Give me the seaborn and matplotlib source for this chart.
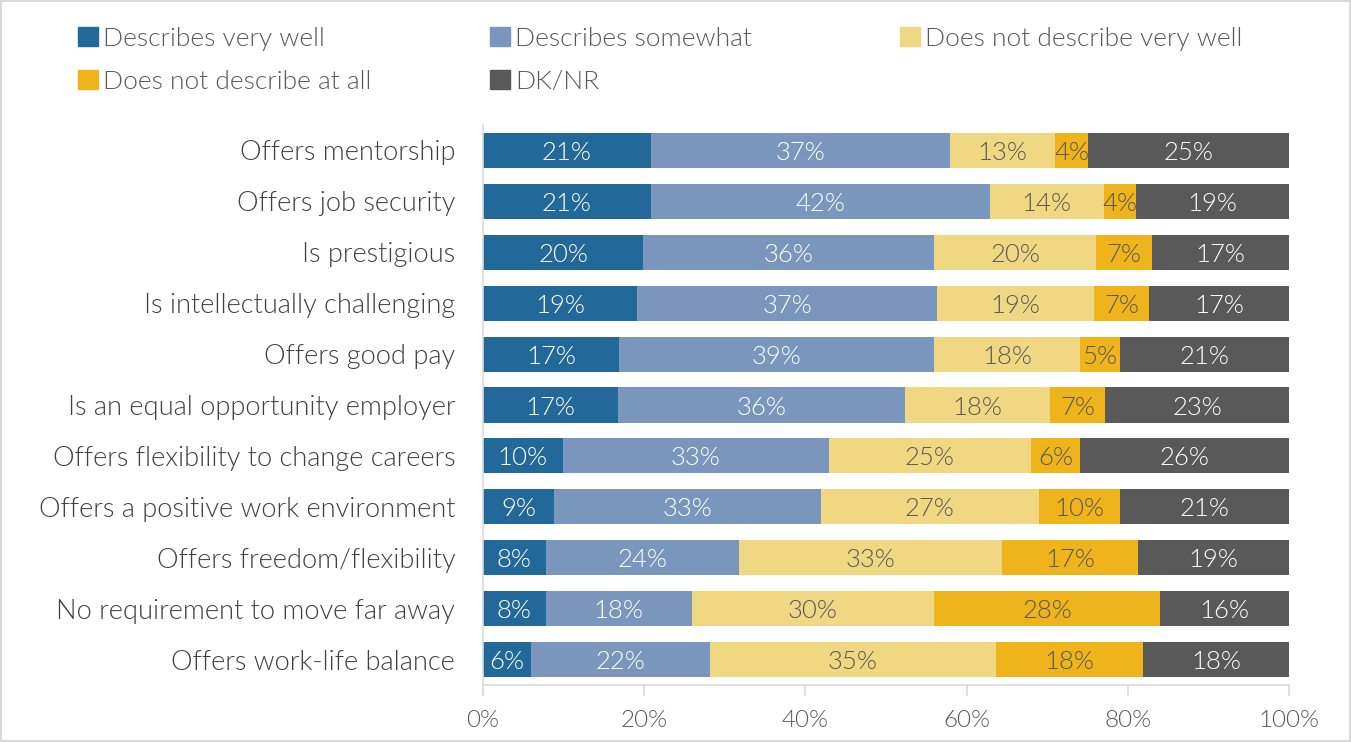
import matplotlib.pyplot as plt
import pandas as pd
import seaborn as sns
from matplotlib.patches import Patch
from matplotlib.ticker import FuncFormatter

sns.set_theme(style="white")
plt.rcParams["font.family"] = ["Lato", "DejaVu Sans"]
plt.rcParams["font.weight"] = 300

categories = ["Offers mentorship", "Offers job security", "Is prestigious",
              "Is intellectually challenging", "Offers good pay",
              "Is an equal opportunity employer", "Offers flexibility to change careers",
              "Offers a positive work environment", "Offers freedom/flexibility",
              "No requirement to move far away", "Offers work-life balance"]
series = ["Describes very well", "Describes somewhat", "Does not describe very well",
          "Does not describe at all", "DK/NR"]
very_well = [20.8, 20.8, 19.9, 19.1, 16.9, 16.8, 9.9, 8.8, 7.8, 7.8, 6.0]
somewhat = [37.1, 42.1, 36.1, 37.3, 39.1, 35.6, 33.0, 33.1, 24.0, 18.1, 22.2]
not_very = [13.1, 14.1, 20.1, 19.4, 18.1, 18.0, 25.1, 27.1, 32.6, 30.1, 35.4]
not_at_all = [4.1, 4.0, 6.9, 6.9, 4.9, 6.8, 6.1, 10.0, 16.9, 28.0, 18.3]
dk_nr = [24.9, 19.0, 17.0, 17.3, 21.0, 22.8, 25.9, 21.0, 18.7, 16.0, 18.1]

colors = ["#22699A", "#7A96BC", "#F0D882", "#EFB31B", "#595959"]
text_colors = ["white", "white", "#595959", "#595959", "white"]

df = pd.DataFrame({"category": categories, series[0]: very_well, series[1]: somewhat,
                   series[2]: not_very, series[3]: not_at_all, series[4]: dk_nr})
cum = df[series].cumsum(axis=1)

fig = plt.figure(figsize=(13.51, 7.42), dpi=100)
fig.patch.set_edgecolor("#D9D9D9")
fig.patch.set_linewidth(1.5)
ax = fig.add_axes([0.3575, 0.0768, 0.5965, 0.7547])

# overlay cumulative totals, widest first
for i in reversed(range(len(series))):
    sns.barplot(x=cum[series[i]], y=df["category"], orient="h", color=colors[i],
                width=0.69, saturation=1, ax=ax, linewidth=0)

for i, s in enumerate(series):
    for j in range(len(df)):
        v = df[s].iloc[j]
        ax.text(cum[s].iloc[j] - v / 2, j + 0.05, f"{round(v)}%", ha="center",
                va="center", fontsize=18.5, color=text_colors[i])

ax.set_xlim(0, 100)
ax.set_ylim(10.5, -0.5)
ax.set_xticks([0, 20, 40, 60, 80, 100])
ax.xaxis.set_major_formatter(FuncFormatter(lambda v, _: f"{int(v)}%"))
ax.set_xlabel("")
ax.set_ylabel("")
for side in ["top", "right"]:
    ax.spines[side].set_visible(False)
for side in ["left", "bottom"]:
    ax.spines[side].set_color("#D9D9D9")
    ax.spines[side].set_linewidth(1.2)
ax.tick_params(axis="x", bottom=True, length=8, width=1.2, color="#D9D9D9",
               labelsize=17.5, labelcolor="#595959", pad=10)
ax.tick_params(axis="y", left=False, labelsize=19.6, labelcolor="#404040", pad=14)

# three legend columns at fixed positions, like the original
cols = [[0, 3], [1, 4], [2]]
xs = [0.0577, 0.3627, 0.666]
for col, x in zip(cols, xs):
    handles = [Patch(color=colors[k], label=series[k]) for k in col]
    fig.legend(handles=handles, loc="upper left", bbox_to_anchor=(x, 0.964),
               frameon=False, fontsize=19, handlelength=0.75, handleheight=0.75,
               handletextpad=0.2, labelspacing=0.72, borderpad=0, borderaxespad=0,
               labelcolor="#595959")

fig.savefig("out.png", dpi=100)
